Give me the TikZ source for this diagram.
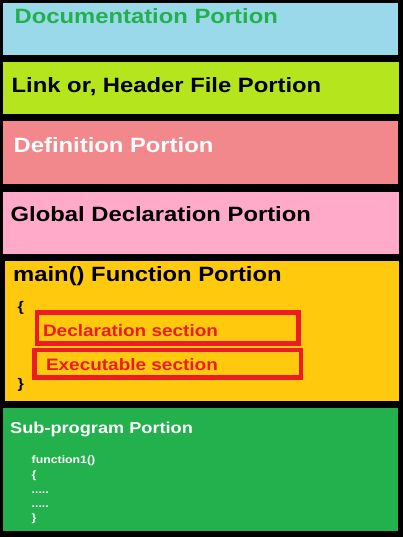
\documentclass[tikz,border=0pt]{standalone}
\usepackage{fontspec}
\setmainfont{Liberation Sans}[FakeStretch=1.15]
\definecolor{docblue}{HTML}{99D9EA}
\definecolor{docgreen}{HTML}{22B14C}
\definecolor{linklime}{HTML}{B5E61D}
\definecolor{defsalmon}{HTML}{F2878C}
\definecolor{globpink}{HTML}{FFAAC9}
\definecolor{maingold}{HTML}{FFC90E}
\definecolor{secred}{HTML}{ED1C24}
\begin{document}
\begin{tikzpicture}[x=1pt,y=1pt,yscale=-1,
  title/.style={anchor=base west,inner sep=0pt,font=\fontsize{20.7}{24}\selectfont\bfseries},
  sect/.style={anchor=base west,inner sep=0pt,text=secred,font=\fontsize{16.5}{19}\selectfont\bfseries},
  code/.style={anchor=base west,inner sep=0pt,text=white,font=\fontsize{10.7}{13}\selectfont\bfseries}]

\fill [black] (0,0) rectangle (403,537);

\fill [docblue] (3,3) rectangle (398,55);
\fill [linklime] (3,62) rectangle (399,114);
\fill [defsalmon] (3,121) rectangle (398,184);
\fill [globpink] (3,192) rectangle (399,254);
\fill [maingold] (5,261) rectangle (399,401);
\fill [docgreen] (3,408) rectangle (398,531);

\draw [secred, line width=4.5] (36.8,312.5) rectangle (298.5,343.7);
\draw [secred, line width=4.5] (34.3,350) rectangle (300.8,377.5);

\draw (14.5,23.3) node [title, text=docgreen] (doc) {Documentation Portion};
\draw (11.5,93) node [title] (link) {Link or, Header File Portion};
\draw (13.5,153) node [title, text=white] (defn) {Definition Portion};
\draw (10.5,222) node [title] (glob) {Global Declaration Portion};
\draw (13,281) node [title] (mainf) {main() Function Portion};

\draw (17.5,311) node [anchor=base west,inner sep=0pt,font=\fontsize{14}{16}\selectfont\bfseries] (obrace) {\{};
\draw (42.8,336) node [sect] (decl) {Declaration section};
\draw (45.8,370) node [sect] (exec) {Executable section};
\draw (17.5,388) node [anchor=base west,inner sep=0pt,font=\fontsize{14}{16}\selectfont\bfseries] (cbrace) {\}};

\draw (10,433) node [anchor=base west,inner sep=0pt,text=white,font=\fontsize{15.8}{18}\selectfont\bfseries] (sub) {Sub-program Portion};
\draw (31.5,463) node [code] (fnhead) {function1()};
\draw (31.5,478) node [code] (fnopen) {\{};
\draw (31.5,493) node [code] (fnbody) {.....};
\draw (31.5,507) node [code] (fnmore) {.....};
\draw (31.5,521) node [code] (fnclose) {\}};
\end{tikzpicture}
\end{document}
